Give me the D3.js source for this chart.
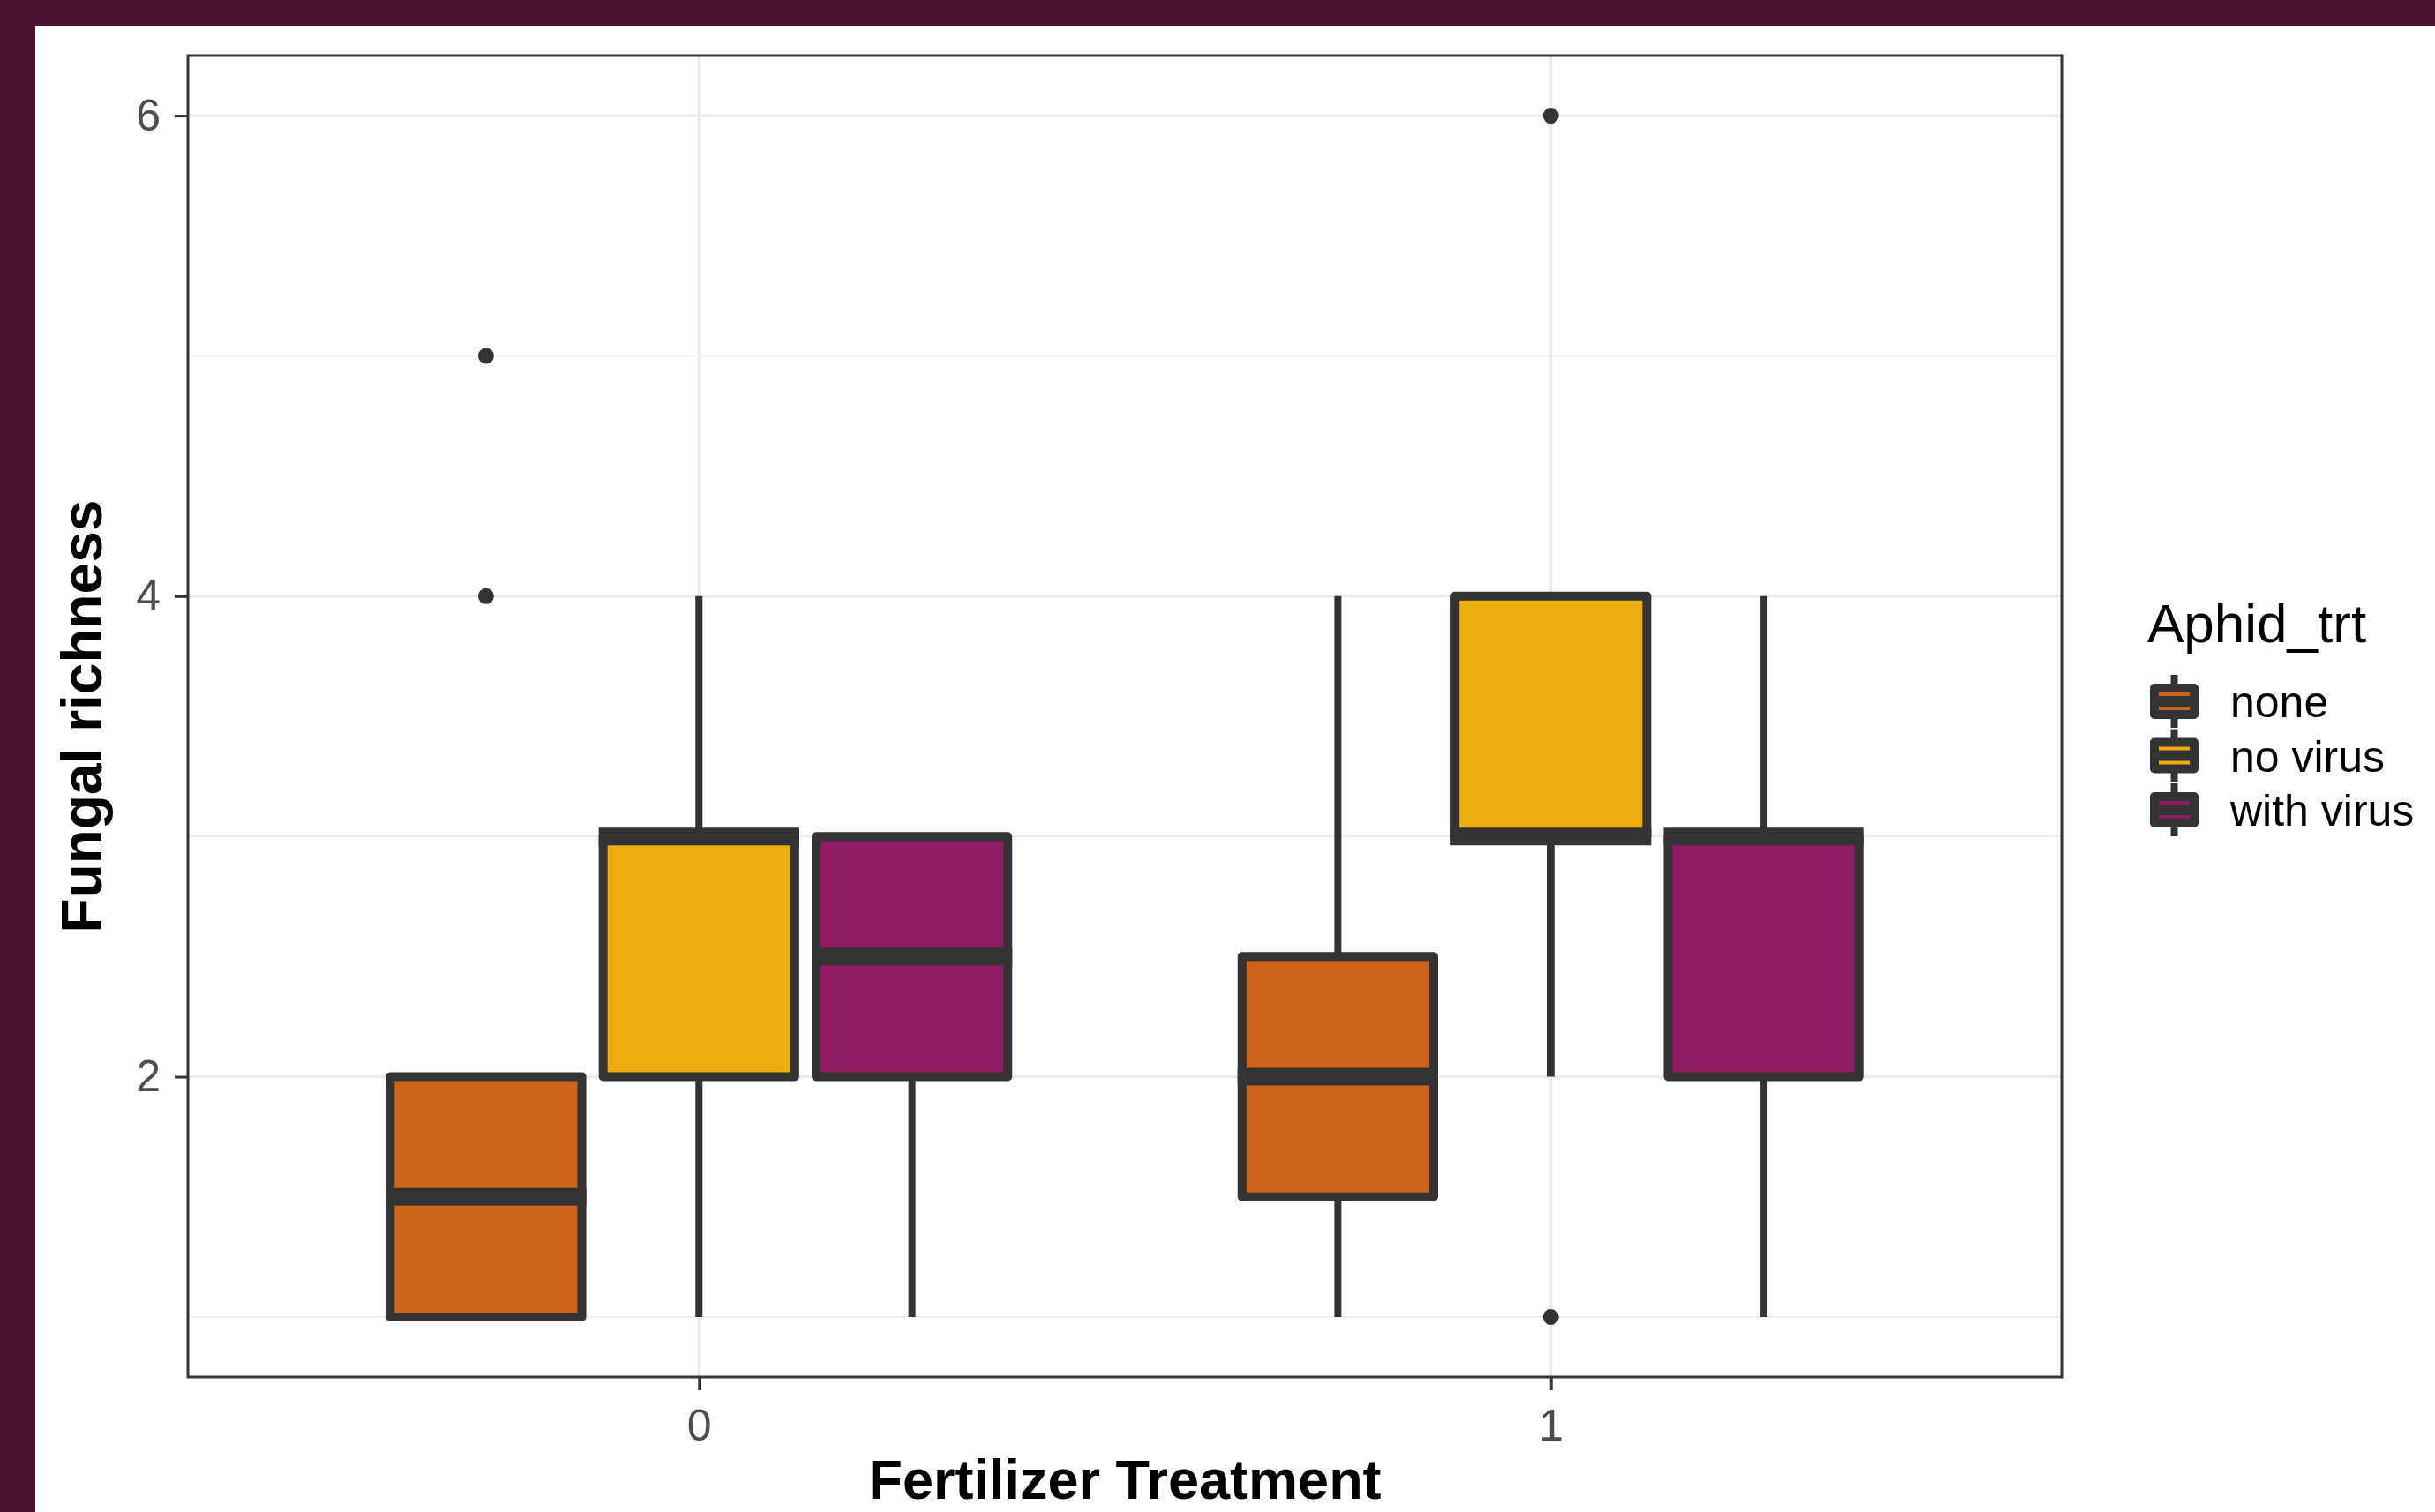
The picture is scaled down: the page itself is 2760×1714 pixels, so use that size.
<!DOCTYPE html>
<html><head><meta charset="utf-8">
<script src="https://cdn.jsdelivr.net/npm/d3@7"></script>
<style>html,body{margin:0;padding:0;background:#4b1230;} svg{display:block}</style>
</head><body><svg id="chart" width="2760" height="1714"></svg>
<script>
// ---- data ----
const fertilizer = ["0", "1"];
const aphidTrt = ["none", "no virus", "with virus"];
const fillColors = ["#CE631B", "#ECAD10", "#8C1C5F"];
// order: fertilizer 0 (none, no virus, with virus), fertilizer 1 (none, no virus, with virus)
const whiskerLow  = [1,   1, 1,   1,   2, 1];
const q1          = [1,   2, 2,   1.5, 3, 2];
const median      = [1.5, 3, 2.5, 2,   3, 3];
const q3          = [2,   3, 3,   2.5, 4, 3];
const whiskerHigh = [2,   4, 3,   4,   4, 4];
const outliers    = [[4, 5], [], [], [], [1, 6], []];
const yTicks = [2, 4, 6];
const yMinor = [1, 3, 5];
const xTitle = "Fertilizer Treatment";
const yTitle = "Fungal richness";
const legendTitle = "Aphid_trt";

// ---- layout ----
const W = 2760, H = 1714;
const P = {left: 213, right: 2337, top: 63, bottom: 1561};
const FONT = "'Liberation Sans', Arial, Helvetica, sans-serif";
const DARK = "#333333";

const svg = d3.select("#chart");
svg.append("rect").attr("width", W).attr("height", H).attr("fill", "#4b1230");
svg.append("rect").attr("x", 40).attr("y", 30).attr("width", W - 40).attr("height", H - 30).attr("fill", "#ffffff");

const x = d3.scalePoint().domain(fertilizer).range([P.left, P.right]).padding(0.6);
const unit = x.step();
const xs = d3.scaleBand().domain(aphidTrt).range([-0.375 * unit, 0.375 * unit]).paddingInner(0.1).paddingOuter(0.05);
const y = d3.scaleLinear().domain([0.75, 6.25]).range([P.bottom, P.top]);
const color = d3.scaleOrdinal().domain(aphidTrt).range(fillColors);

const boxes = fertilizer.flatMap((f, i) => aphidTrt.map((a, j) => {
  const k = i * aphidTrt.length + j;
  return {f, a, lo: whiskerLow[k], q1: q1[k], med: median[k], q3: q3[k], hi: whiskerHigh[k], out: outliers[k]};
}));

// grid
const grid = svg.append("g");
grid.selectAll(".minor").data(yMinor).join("line")
  .attr("x1", P.left).attr("x2", P.right).attr("y1", d => y(d)).attr("y2", d => y(d))
  .attr("stroke", "#EBEBEB").attr("stroke-width", 1.8);
grid.selectAll(".major").data(yTicks).join("line")
  .attr("x1", P.left).attr("x2", P.right).attr("y1", d => y(d)).attr("y2", d => y(d))
  .attr("stroke", "#EBEBEB").attr("stroke-width", 3.2);
grid.selectAll(".vmajor").data(fertilizer).join("line")
  .attr("x1", d => x(d)).attr("x2", d => x(d)).attr("y1", P.top).attr("y2", P.bottom)
  .attr("stroke", "#EBEBEB").attr("stroke-width", 3.2);

// boxplots
const g = svg.append("g");
const bx = d => x(d.f) + xs(d.a);
const bc = d => bx(d) + xs.bandwidth() / 2;

g.selectAll(".out").data(boxes.flatMap(d => d.out.map(v => ({d, v})))).join("circle")
  .attr("cx", o => bc(o.d)).attr("cy", o => y(o.v)).attr("r", 9).attr("fill", DARK);

g.selectAll(".wlo").data(boxes).join("line")
  .attr("x1", bc).attr("x2", bc).attr("y1", d => y(d.lo)).attr("y2", d => y(d.q1))
  .attr("stroke", DARK).attr("stroke-width", 8);
g.selectAll(".whi").data(boxes).join("line")
  .attr("x1", bc).attr("x2", bc).attr("y1", d => y(d.hi)).attr("y2", d => y(d.q3))
  .attr("stroke", DARK).attr("stroke-width", 8);

g.selectAll(".box").data(boxes).join("rect")
  .attr("x", bx).attr("width", xs.bandwidth())
  .attr("y", d => y(d.q3)).attr("height", d => y(d.q1) - y(d.q3))
  .attr("fill", d => color(d.a)).attr("stroke", DARK).attr("stroke-width", 10)
  .attr("stroke-linejoin", "round");
g.selectAll(".med").data(boxes).join("line")
  .attr("x1", d => bx(d) - 5).attr("x2", d => bx(d) + xs.bandwidth() + 5)
  .attr("y1", d => y(d.med)).attr("y2", d => y(d.med))
  .attr("stroke", DARK).attr("stroke-width", 20);

// panel border
svg.append("rect").attr("x", P.left).attr("y", P.top)
  .attr("width", P.right - P.left).attr("height", P.bottom - P.top)
  .attr("fill", "none").attr("stroke", "#333333").attr("stroke-width", 3);

// axes
const yAxis = svg.append("g").attr("transform", `translate(${P.left},0)`)
  .call(d3.axisLeft(y).tickValues(yTicks).tickFormat(d3.format("d")).tickSize(15).tickPadding(16));
const xAxis = svg.append("g").attr("transform", `translate(0,${P.bottom})`)
  .call(d3.axisBottom(x).tickSize(15).tickPadding(21));
[yAxis, xAxis].forEach(a => {
  a.select(".domain").remove();
  a.selectAll(".tick line").attr("stroke", "#333333").attr("stroke-width", 3);
  a.selectAll(".tick text").attr("font-family", FONT).attr("font-size", 50).attr("fill", "#4D4D4D");
});

// axis titles
svg.append("text").attr("x", (P.left + P.right) / 2).attr("y", 1699)
  .attr("text-anchor", "middle").attr("font-family", FONT).attr("font-weight", "bold")
  .attr("font-size", 63).attr("fill", "#000").text(xTitle);
svg.append("text").attr("transform", `translate(115,${(P.top + P.bottom) / 2}) rotate(-90)`)
  .attr("text-anchor", "middle").attr("font-family", FONT).attr("font-weight", "bold")
  .attr("font-size", 64).attr("fill", "#000").text(yTitle);

// legend
const lg = svg.append("g");
lg.append("text").attr("x", 2434).attr("y", 728).attr("font-family", FONT)
  .attr("font-size", 62).attr("fill", "#000").text(legendTitle);
const keyY = d3.scalePoint().domain(aphidTrt).range([795, 918]);
const keyCx = 2464.5;
const items = lg.selectAll(".item").data(aphidTrt).join("g");
items.append("line").attr("x1", keyCx).attr("x2", keyCx)
  .attr("y1", d => keyY(d) - 30).attr("y2", d => keyY(d) + 30)
  .attr("stroke", DARK).attr("stroke-width", 8);
items.append("rect").attr("x", 2442).attr("width", 45)
  .attr("y", d => keyY(d) - 15).attr("height", 30)
  .attr("fill", d => color(d)).attr("stroke", DARK).attr("stroke-width", 10).attr("stroke-linejoin", "round");
items.append("line").attr("x1", 2437).attr("x2", 2492)
  .attr("y1", d => keyY(d)).attr("y2", d => keyY(d))
  .attr("stroke", DARK).attr("stroke-width", 12);
items.append("text").attr("x", 2528).attr("y", d => keyY(d) + 18)
  .attr("font-family", FONT).attr("font-size", 50).attr("fill", "#000").text(d => d);
</script>
</body></html>
